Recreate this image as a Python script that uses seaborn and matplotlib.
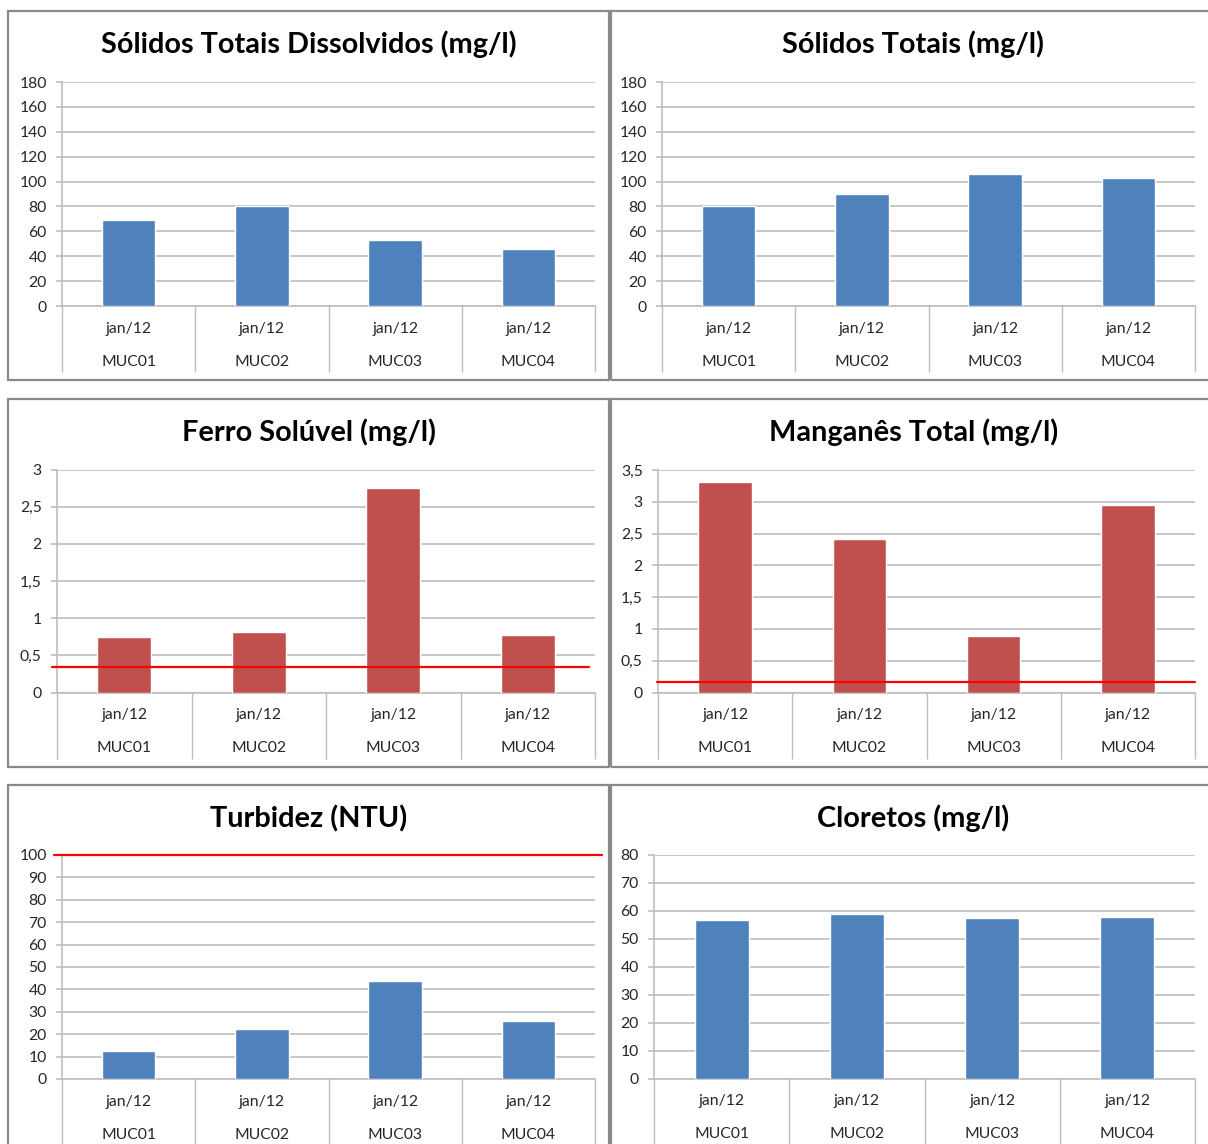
import matplotlib
matplotlib.use("Agg")
import matplotlib.pyplot as plt
import matplotlib.transforms as mtransforms
from matplotlib.patches import Rectangle
from matplotlib.ticker import FuncFormatter, MultipleLocator, FixedLocator
import seaborn as sns
import pandas as pd

# ---- data -------------------------------------------------------------
sites = ["MUC01", "MUC02", "MUC03", "MUC04"]
periods = ["jan/12", "jan/12", "jan/12", "jan/12"]

solidos_dissolvidos = [69.5, 80, 53, 46]
solidos_totais = [80, 90, 106, 103]
ferro_soluvel = [0.74, 0.81, 2.75, 0.78]
manganes_total = [3.31, 2.41, 0.89, 2.95]
turbidez = [12.5, 22.4, 43.7, 25.7]
cloretos = [56.6, 58.8, 57.3, 57.9]

titles = [
    "Sólidos Totais Dissolvidos (mg/l)",
    "Sólidos Totais (mg/l)",
    "Ferro Solúvel (mg/l)",
    "Manganês Total (mg/l)",
    "Turbidez (NTU)",
    "Cloretos (mg/l)",
]
series = [solidos_dissolvidos, solidos_totais, ferro_soluvel,
          manganes_total, turbidez, cloretos]
y_max = [180, 180, 3, 3.5, 100, 80]
y_step = [20, 20, 0.5, 0.5, 10, 10]
# reference limits (red line), None where no limit is drawn
limits = [None, None, 0.34, 0.17, 100, None]

# ---- style ------------------------------------------------------------
BLUE = "#4F81BD"
RED = "#C0504D"
bar_colors = [BLUE, BLUE, RED, RED, BLUE, BLUE]
GRID = "#BDBDBD"
FRAME = "#8A8A8A"
TEXT = "#262626"

sns.set_theme(style="white")
plt.rcParams["font.family"] = ["Lato", "DejaVu Sans"]

W, H = 1208, 1144
DPI = 100
fig = plt.figure(figsize=(W / DPI, H / DPI), dpi=DPI)
fig.patch.set_facecolor("white")


def px_rect(left, top, right, bottom):
    return [left / W, 1 - bottom / H, (right - left) / W, (bottom - top) / H]


# plot areas in pixels: left, top, right, bottom
plot_boxes = [
    (62, 82, 595, 306),
    (662, 82, 1195, 306),
    (57, 469.5, 595, 692.5),
    (658, 470, 1195, 692.5),
    (62, 855, 595, 1079),
    (654, 855, 1195, 1078.5),
]
# panel frames in pixels
panel_cols = [(8, 609), (611, 1216)]
panel_rows = [(11, 380), (399, 767), (785, 1165)]
# horizontal extent of the red limit line, in axes fraction
limit_span = [None, None, (-0.009, 0.989), (-0.002, 1.0), (-0.015, 1.013), None]

for r in panel_rows:
    for c in panel_cols:
        fig.add_artist(Rectangle((c[0] / W, 1 - r[1] / H),
                                 (c[1] - c[0]) / W, (r[1] - r[0]) / H,
                                 transform=fig.transFigure, fill=False,
                                 edgecolor=FRAME, linewidth=1.6))

comma = FuncFormatter(lambda v, p: f"{v:g}".replace(".", ","))

for i in range(6):
    ax = fig.add_axes(px_rect(*plot_boxes[i]))
    df = pd.DataFrame({"site": sites, "value": series[i]})
    sns.barplot(data=df, x="site", y="value", color=bar_colors[i],
                saturation=1, width=0.4, ax=ax, zorder=3)
    ax.set_xlim(-0.5, 3.5)
    ax.set_ylim(0, y_max[i])
    ax.set_xlabel("")
    ax.set_ylabel("")

    ax.yaxis.set_major_locator(MultipleLocator(y_step[i]))
    ax.yaxis.set_major_formatter(comma)
    ax.yaxis.grid(True, color=GRID, linewidth=1.2, zorder=0)
    ax.set_axisbelow(True)
    ax.tick_params(axis="y", which="major", direction="out", length=4,
                   width=1.2, color=GRID, pad=7, labelsize=11.3,
                   labelcolor=TEXT, left=True)

    # category separators below the axis
    ax.set_xticks([0, 1, 2, 3])
    ax.set_xticklabels([])
    ax.xaxis.set_minor_locator(FixedLocator([-0.5, 0.5, 1.5, 2.5, 3.5]))
    ax.tick_params(axis="x", which="major", length=0)
    ax.tick_params(axis="x", which="minor", direction="out", length=47.5,
                   width=1.0, color=GRID, bottom=True)

    for s in ["top", "right"]:
        ax.spines[s].set_visible(False)
    for s in ["left", "bottom"]:
        ax.spines[s].set_color(GRID)
        ax.spines[s].set_linewidth(1.2)

    # two-level category labels
    for k in range(4):
        off1 = mtransforms.ScaledTranslation(0, -23 / DPI, fig.dpi_scale_trans)
        off2 = mtransforms.ScaledTranslation(0, -56 / DPI, fig.dpi_scale_trans)
        base = ax.get_xaxis_transform()
        ax.text(k, 0, periods[k], transform=base + off1, ha="center",
                va="center", fontsize=11.3, color=TEXT)
        ax.text(k, 0, sites[k], transform=base + off2, ha="center",
                va="center", fontsize=11.3, color=TEXT)

    if limits[i] is not None:
        x0, x1 = limit_span[i]
        ax.plot([x0, x1], [limits[i], limits[i]], color="#FF0000",
                linewidth=1.6, transform=ax.get_yaxis_transform(),
                clip_on=False, zorder=5)

    # title centred over the panel
    col = panel_cols[i % 2]
    row = panel_rows[i // 2]
    fig.text((col[0] + col[1]) / 2 / W, 1 - (row[0] + 33.5) / H, titles[i],
             ha="center", va="center", fontsize=20.8, fontweight="bold",
             color="black")

fig.savefig("out.png", dpi=DPI, facecolor="white")
